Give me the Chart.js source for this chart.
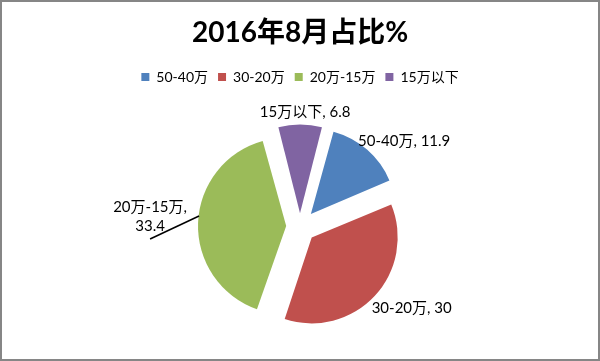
<!DOCTYPE html>
<html>
<head>
<meta charset="utf-8">
<script src="https://cdn.jsdelivr.net/npm/chart.js@4"></script>
<style>
  html, body { margin: 0; padding: 0; background: #fff; }
  #wrap {
    width: 600px; height: 361px; box-sizing: border-box;
    border: 2px solid #868686; position: relative;
  }
</style>
</head>
<body>
<div id="wrap"><canvas id="grafico"></canvas></div>
<script>
// dados do gráfico
const categorias = ['50-40万', '30-20万', '20万-15万', '15万以下'];
const valores = [11.9, 30, 33.4, 6.8];
const cores = ['#4F81BD', '#C0504D', '#9BBB59', '#8064A2'];

// deslocamento (px) de cada fatia para fora do centro
const deslocamento = 20;

// posição dos rótulos (relativa ao ponto externo de cada fatia)
const posRotulo = [
    { align: 'left', dx: -9, dy: -8.5 },
    { align: 'left', dx: -3, dy: 12.5 },
    { align: 'center', dx: -48, dy: -16, linha: 19, guia: [1, -7, -48, 16] },
    { align: 'center', dx: 5, dy: -12.5 }
];

const fonteBase = 'Lato, "Noto Sans CJK SC", sans-serif';

// o Chart.js translada o arco por offset/4 * (2 - sin(circ)), então converte para px reais
function offsetArco(c) {
    const total = valores.reduce((a, b) => a + b, 0);
    const circ = 2 * Math.PI * valores[c.dataIndex] / total;
    const fix = 1 - Math.sin(Math.min(Math.PI, circ));
    return deslocamento * 4 / (1 + fix);
}

const rotulos = {
    id: 'rotulos',
    afterDatasetsDraw(chart) {
        const ctx = chart.ctx;
        const meta = chart.getDatasetMeta(0);
        ctx.save();
        ctx.font = '15px ' + fonteBase;
        ctx.fillStyle = '#000';
        ctx.textBaseline = 'middle';
        meta.data.forEach((arc, i) => {
            const p = arc.getProps(['x', 'y', 'startAngle', 'endAngle', 'outerRadius'], true);
            const meio = (p.startAngle + p.endAngle) / 2;
            const r = p.outerRadius + deslocamento;
            const ox = p.x + Math.cos(meio) * r;
            const oy = p.y + Math.sin(meio) * r;
            const pos = posRotulo[i];
            ctx.textAlign = pos.align;
            if (pos.linha) {
                // rótulo em duas linhas com linha guia
                ctx.fillText(categorias[i] + ',', ox + pos.dx, oy + pos.dy);
                ctx.fillText(String(valores[i]), ox + pos.dx, oy + pos.dy + pos.linha);
                const g = pos.guia;
                ctx.beginPath();
                ctx.strokeStyle = '#000';
                ctx.lineWidth = 1.5;
                ctx.moveTo(ox + g[0], oy + g[1]);
                ctx.lineTo(ox + g[2], oy + g[3]);
                ctx.stroke();
            } else {
                ctx.fillText(categorias[i] + ', ' + valores[i], ox + pos.dx, oy + pos.dy);
            }
        });
        ctx.restore();
    }
};

const ctx = document.getElementById('grafico').getContext('2d');
new Chart(ctx, {
    type: 'pie',
    data: {
        labels: categorias,
        datasets: [{
            data: valores,
            backgroundColor: cores,
            borderWidth: 0,
            offset: offsetArco,
            radius: 82
        }]
    },
    options: {
        responsive: true,
        maintainAspectRatio: false,
        animation: false,
        rotation: 15,
        layout: { padding: 0 },
        plugins: {
            title: {
                display: true,
                text: '2016年8月占比%',
                color: '#000',
                font: { family: fonteBase, size: 28, weight: 'bold' },
                padding: { top: 14, bottom: 10.4 }
            },
            legend: {
                position: 'top',
                labels: {
                    boxWidth: 8,
                    boxHeight: 8,
                    padding: 10,
                    color: '#000',
                    font: { family: fonteBase, size: 14 }
                }
            },
            tooltip: { enabled: false }
        }
    },
    plugins: [rotulos]
});
</script>
</body>
</html>
